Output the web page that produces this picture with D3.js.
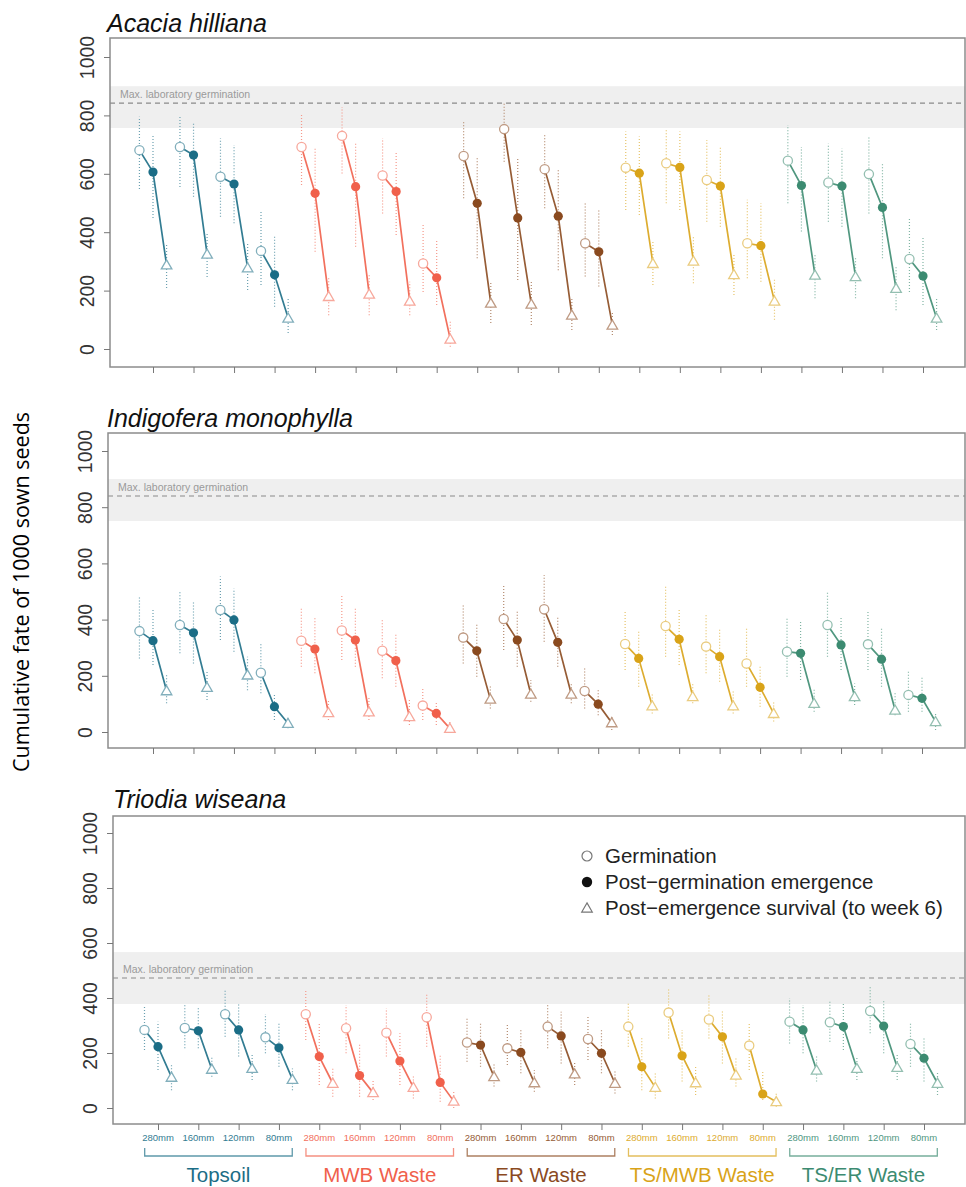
<!DOCTYPE html>
<html>
<head>
<meta charset="utf-8">
<script src="https://cdn.jsdelivr.net/npm/d3@7"></script>
<style>
  body { margin: 0; background: #fff; }
  svg { display: block; font-family: "Liberation Sans", Arial, sans-serif; }
</style>
</head>
<body>
<svg id="chart" width="966" height="1187"></svg>
<script>
// treatments (x axis)
const depths = ['280mm', '160mm', '120mm', '80mm'];
const wastes = ['Topsoil', 'MWB Waste', 'ER Waste', 'TS/MWB Waste', 'TS/ER Waste'];
const wasteColors = ['#1b6d86', '#f0604b', '#8a4a1f', '#d9a318', '#3c8b71'];
const species = ['Acacia hilliana', 'Indigofera monophylla', 'Triodia wiseana'];
const stages = ['Germination', 'Post\u2212germination emergence', 'Post\u2212emergence survival (to week 6)'];
const yTicks = [0, 200, 400, 600, 800, 1000];

// max laboratory germination (mean, low, high) per species
const labGerm = [842, 840, 473];
const labLow = [757, 751, 378];
const labHigh = [900, 900, 567];

// [mean, lower, upper] per treatment (5 wastes x 4 depths)
const acaciaGerm = [[681,548,795],[692,555,801],[590,453,722],[336,219,476],
  [692,562,801],[730,601,829],[594,464,722],[293,195,430],
  [661,516,778],[753,641,847],[616,482,739],[362,248,499],
  [621,476,745],[636,499,756],[579,436,716],[362,242,511],
  [645,499,767],[570,436,704],[599,464,728],[308,195,448]];
const acaciaEmerg = [[606,449,733],[664,521,778],[565,431,699],[254,145,390],
  [533,333,692],[556,350,710],[539,390,676],[244,151,373],
  [499,311,659],[449,236,653],[455,270,619],[333,214,476],
  [602,459,728],[622,476,745],[558,419,692],[354,230,499],
  [560,402,692],[558,419,687],[485,311,636],[250,151,385]];
const acaciaSurv = [[288,209,363],[325,247,397],[278,202,362],[106,55,174],
  [180,116,248],[188,116,259],[164,116,230],[34,8,93],
  [157,89,226],[154,82,236],[116,65,174],[82,48,128],
  [293,219,368],[301,225,385],[255,185,327],[164,100,242],
  [253,174,327],[248,174,317],[208,133,282],[106,65,174]];

const indigoGerm = [[359,262,482],[381,280,499],[434,327,553],[211,138,318],
  [325,232,440],[361,256,488],[289,191,405],[94,43,155],
  [336,244,452],[402,292,527],[437,321,559],[146,84,232],
  [313,221,428],[377,268,517],[304,209,416],[244,161,369],
  [286,197,405],[381,268,499],[312,221,428],[132,72,215]];
const indigoEmerg = [[325,238,434],[353,244,464],[399,286,511],[90,43,138],
  [295,209,410],[327,232,440],[254,161,351],[66,25,108],
  [289,197,387],[327,232,428],[319,232,410],[99,60,155],
  [262,161,363],[330,238,440],[268,179,369],[159,90,232],
  [280,185,399],[310,221,410],[259,161,375],[120,72,197]];
const indigoSurv = [[147,102,209],[159,114,218],[203,149,268],[31,13,49],
  [69,43,114],[72,43,126],[55,25,114],[13,0,37],
  [117,84,167],[135,108,185],[135,102,175],[33,7,60],
  [93,66,138],[126,102,173],[93,66,149],[66,37,108],
  [102,72,155],[126,96,173],[78,60,138],[37,7,66]];

const triodiaGerm = [[284,211,368],[291,217,375],[341,259,429],[257,199,342],
  [341,247,432],[290,199,375],[274,187,363],[330,223,417],
  [238,168,326],[217,156,302],[296,217,381],[251,175,332],
  [296,223,381],[347,253,435],[322,253,411],[227,138,308],
  [314,235,399],[312,241,393],[353,272,441],[233,150,314]];
const triodiaEmerg = [[223,138,314],[281,217,363],[284,187,381],[219,150,308],
  [187,84,308],[118,41,235],[171,84,272],[93,23,193],
  [229,150,314],[202,126,284],[262,162,350],[199,126,284],
  [150,65,259],[190,96,284],[259,162,356],[51,29,138],
  [284,199,375],[296,211,381],[298,199,393],[181,96,259]];
const triodiaSurv = [[112,65,156],[141,114,187],[144,102,193],[104,65,144],
  [90,41,150],[56,29,102],[75,35,120],[25,0,65],
  [114,78,162],[92,59,138],[124,84,168],[90,53,138],
  [75,35,126],[92,47,150],[120,78,187],[23,5,53],
  [138,96,187],[144,102,187],[148,102,199],[90,47,132]];

const panelData = [
  [acaciaGerm, acaciaEmerg, acaciaSurv],
  [indigoGerm, indigoEmerg, indigoSurv],
  [triodiaGerm, triodiaEmerg, triodiaSurv]
];

// page layout of the three panels
const layout = [
  { top: 38, bottom: 367, left: 110, right: 965, y0: 349, y1000: 57, tick0: 153, tick19: 923, titleX: 107, titleY: 32 },
  { top: 433, bottom: 748, left: 108, right: 965, y0: 732, y1000: 451, tick0: 153, tick19: 922, titleX: 107, titleY: 427 },
  { top: 816, bottom: 1124, left: 113, right: 965, y0: 1108, y1000: 833, tick0: 158, tick19: 924, titleX: 113, titleY: 808 }
];
const stageOffset = [-0.335, 0, 0.335];

const svg = d3.select('#chart');
const light = (c, t) => d3.interpolateRgb(c, '#fff')(t);
const triangle = d3.symbol().type(d3.symbolTriangle).size(48);

layout.forEach((L, p) => {
  const x = d3.scaleLinear().domain([0, 19]).range([L.tick0, L.tick19]);
  const y = d3.scaleLinear().domain([0, 1000]).range([L.y0, L.y1000]);
  const g = svg.append('g');

  // lab germination band
  g.append('rect')
    .attr('x', L.left).attr('width', L.right - L.left)
    .attr('y', y(labHigh[p])).attr('height', y(labLow[p]) - y(labHigh[p]))
    .attr('fill', '#efefef');
  g.append('line')
    .attr('x1', L.left).attr('x2', L.right)
    .attr('y1', y(labGerm[p])).attr('y2', y(labGerm[p]))
    .attr('stroke', '#8a8a8a').attr('stroke-width', 1.1)
    .attr('stroke-dasharray', '5,4');
  g.append('text')
    .attr('x', L.left + 10).attr('y', y(labGerm[p]) - 5)
    .attr('font-size', 10.5).attr('fill', '#9a9a9a')
    .text('Max. laboratory germination');

  // box
  g.append('rect')
    .attr('x', L.left).attr('y', L.top)
    .attr('width', L.right - L.left).attr('height', L.bottom - L.top)
    .attr('fill', 'none').attr('stroke', '#8c8c8c').attr('stroke-width', 1.5);

  // y axis
  const yAxis = g.append('g')
    .attr('transform', `translate(${L.left},0)`)
    .call(d3.axisLeft(y).tickValues(yTicks).tickFormat(d3.format('d')).tickSize(6).tickPadding(0));
  yAxis.select('.domain').remove();
  yAxis.selectAll('.tick line').attr('stroke', '#777');
  yAxis.selectAll('.tick text')
    .attr('transform', 'rotate(-90)')
    .attr('x', 0).attr('y', -16).attr('dy', 0)
    .attr('text-anchor', 'middle')
    .attr('font-size', 19.5)
    .attr('font-family', '"Liberation Sans", Arial, sans-serif')
    .attr('fill', '#333');

  // x axis ticks
  const xAxis = g.append('g')
    .attr('transform', `translate(0,${L.bottom})`)
    .call(d3.axisBottom(x).tickValues(d3.range(20)).tickSize(6).tickFormat(''));
  xAxis.select('.domain').remove();
  xAxis.selectAll('.tick line').attr('stroke', '#777');

  // title
  g.append('text')
    .attr('x', L.titleX).attr('y', L.titleY)
    .attr('font-size', 25).attr('font-style', 'italic').attr('fill', '#111')
    .text(species[p]);

  const [germ, emerg, surv] = panelData[p];
  const rows = d3.range(20).map(i => ({
    i, col: wasteColors[Math.floor(i / 4)],
    pts: [germ[i], emerg[i], surv[i]].map((v, s) => ({ s, x: x(i + stageOffset[s]), m: v[0], lo: v[1], hi: v[2] }))
  }));

  // error bars
  rows.forEach(r => {
    r.pts.forEach(pt => {
      g.append('line')
        .attr('x1', pt.x).attr('x2', pt.x)
        .attr('y1', y(pt.lo)).attr('y2', y(pt.hi))
        .attr('stroke', light(r.col, 0.35)).attr('stroke-width', 1.2)
        .attr('stroke-dasharray', '1,2');
    });
  });

  // connecting lines
  const line = d3.line().x(d => d.x).y(d => y(d.m));
  rows.forEach(r => {
    g.append('path').attr('d', line(r.pts))
      .attr('fill', 'none').attr('stroke', light(r.col, 0.1)).attr('stroke-width', 1.7);
  });

  // markers
  rows.forEach(r => {
    const [a, b, c] = r.pts;
    g.append('circle').attr('cx', a.x).attr('cy', y(a.m)).attr('r', 4.6)
      .attr('fill', '#fff').attr('stroke', light(r.col, 0.45)).attr('stroke-width', 1.3);
    g.append('circle').attr('cx', b.x).attr('cy', y(b.m)).attr('r', 4.6)
      .attr('fill', r.col);
    g.append('path').attr('d', triangle)
      .attr('transform', `translate(${c.x},${y(c.m) + 1})`)
      .attr('fill', '#fff').attr('stroke', light(r.col, 0.45)).attr('stroke-width', 1.3);
  });

  // treatment labels and brackets on the bottom panel
  if (p === 2) {
    const lab = svg.append('g');
    d3.range(20).forEach(i => {
      lab.append('text')
        .attr('x', x(i)).attr('y', L.bottom + 17)
        .attr('text-anchor', 'middle').attr('font-size', 9.5)
        .attr('fill', light(wasteColors[Math.floor(i / 4)], 0.1))
        .text(depths[i % 4]);
    });
    wastes.forEach((w, k) => {
      const x1 = x(k * 4 - 0.33), x2 = x(k * 4 + 3 + 0.33);
      const col = wasteColors[k];
      lab.append('path')
        .attr('d', `M${x1},${L.bottom + 24}V${L.bottom + 32}H${x2}V${L.bottom + 24}`)
        .attr('fill', 'none').attr('stroke', light(col, 0.3)).attr('stroke-width', 1.3);
      lab.append('text')
        .attr('x', (x1 + x2) / 2).attr('y', L.bottom + 58)
        .attr('text-anchor', 'middle').attr('font-size', 20.5)
        .attr('fill', col)
        .text(w);
    });

    // legend
    const leg = svg.append('g').attr('transform', 'translate(587,856)');
    stages.forEach((s, k) => {
      const gy = k * 26;
      if (k === 0) {
        leg.append('circle').attr('cx', 0).attr('cy', gy).attr('r', 5)
          .attr('fill', '#fff').attr('stroke', '#777').attr('stroke-width', 1.2);
      } else if (k === 1) {
        leg.append('circle').attr('cx', 0).attr('cy', gy).attr('r', 5.2).attr('fill', '#111');
      } else {
        leg.append('path').attr('d', triangle).attr('transform', `translate(0,${gy + 1})`)
          .attr('fill', '#fff').attr('stroke', '#777').attr('stroke-width', 1.2);
      }
      leg.append('text').attr('x', 18).attr('y', gy + 7)
        .attr('font-size', 20.5).attr('fill', '#222').text(s);
    });
  }
});

// y axis title
svg.append('text')
  .attr('transform', 'translate(29,592) rotate(-90)')
  .attr('text-anchor', 'middle')
  .attr('font-family', '"Open Sans", "Noto Sans", sans-serif')
  .attr('font-size', 21.5).attr('fill', '#000')
  .text('Cumulative fate of 1000 sown seeds');
</script>
</body>
</html>
